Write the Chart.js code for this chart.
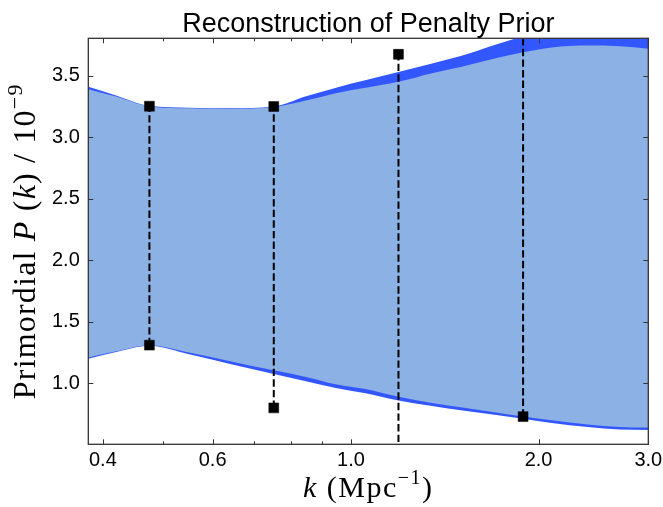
<!DOCTYPE html>
<html>
<head>
<meta charset="utf-8">
<script src="https://cdn.jsdelivr.net/npm/chart.js@4/dist/chart.umd.min.js"></script>
<style>
  html, body { margin: 0; padding: 0; background: #ffffff; }
  #wrap { width: 663px; height: 507px; position: relative; }
</style>
</head>
<body>
<div id="wrap"><canvas id="c" width="663" height="507"></canvas></div>
<script>
// ---- data ----
const titleText = 'Reconstruction of Penalty Prior';
const kGrid      = [0.379, 0.42, 0.475, 0.55, 0.64, 0.752, 0.85, 0.95, 1.05, 1.192, 1.35, 1.5, 1.7, 1.889, 2.1, 2.4, 2.7, 3.0];
const lightUpper = [3.39, 3.33, 3.25, 3.235, 3.23, 3.245, 3.30, 3.36, 3.40, 3.45, 3.52, 3.57, 3.64, 3.69, 3.73, 3.745, 3.74, 3.72];
const lightLower = [1.21, 1.26, 1.31, 1.25, 1.18, 1.105, 1.05, 0.99, 0.955, 0.89, 0.84, 0.805, 0.765, 0.73, 0.70, 0.665, 0.645, 0.64];
const darkUpper  = [3.41, 3.34, 3.255, 3.24, 3.235, 3.25, 3.335, 3.405, 3.46, 3.53, 3.60, 3.66, 3.75, 3.82, 3.87, 3.90, 3.91, 3.90];
const darkLower  = [1.20, 1.255, 1.305, 1.236, 1.157, 1.075, 1.015, 0.96, 0.92, 0.86, 0.815, 0.78, 0.745, 0.712, 0.678, 0.645, 0.624, 0.62];
const sampleK    = [0.475, 0.752, 1.192, 1.889];
const sampleHigh = [3.252, 3.25, 3.674, 4.05];
const sampleLow  = [1.31, 0.80, 0.35, 0.729];
const xTicks      = [0.4, 0.6, 1.0, 2.0, 3.0];
const xMinorTicks = [0.5, 0.7, 0.8, 0.9];
const yTicks      = [1.0, 1.5, 2.0, 2.5, 3.0, 3.5];

const LIGHT = '#8cb1e4';
const DARK  = '#3357ff';

const toPts = (xs, ys) => xs.map((x, i) => ({ x: x, y: ys[i] }));
const markerPts = sampleK.flatMap((k, i) => [{ x: k, y: sampleHigh[i] }, { x: k, y: sampleLow[i] }]);
const dashPts = sampleK.flatMap((k, i) => [{ x: k, y: sampleLow[i] }, { x: k, y: sampleHigh[i] }, { x: k, y: null }]);

function drawMixed(ctx, segs, x, y, spacing) {
  if ('letterSpacing' in ctx) ctx.letterSpacing = spacing + 'px';
  let total = 0;
  segs.forEach(s => { ctx.font = s.font; s.w = ctx.measureText(s.t).width; total += s.w; });
  let cx = x - total / 2;
  ctx.textAlign = 'left';
  ctx.textBaseline = 'alphabetic';
  segs.forEach(s => { ctx.font = s.font; ctx.fillText(s.t, cx, y + (s.dy || 0)); cx += s.w; });
  if ('letterSpacing' in ctx) ctx.letterSpacing = '0px';
}

function fonts(F) {
  const serif = '"Liberation Serif", "Times New Roman", serif';
  return {
    rom: F + 'px ' + serif,
    ita: 'italic ' + F + 'px ' + serif,
    sup: Math.round(F * 0.68) + 'px ' + serif,
    up: -F * 0.42
  };
}

const decor = {
  id: 'decor',
  afterDraw(chart) {
    const ctx = chart.ctx;
    const a = chart.chartArea;
    const xs = chart.scales.x, ys = chart.scales.y;
    ctx.save();
    // frame
    ctx.strokeStyle = '#333333';
    ctx.lineWidth = 1.3;
    ctx.strokeRect(a.left, a.top, a.right - a.left, a.bottom - a.top);
    // inward ticks
    ctx.lineWidth = 1;
    ctx.beginPath();
    const tickX = (v, len) => {
      const p = Math.round(xs.getPixelForValue(v)) + 0.5;
      ctx.moveTo(p, a.bottom); ctx.lineTo(p, a.bottom - len);
      ctx.moveTo(p, a.top); ctx.lineTo(p, a.top + len);
    };
    const tickY = (v, len) => {
      const p = Math.round(ys.getPixelForValue(v)) + 0.5;
      ctx.moveTo(a.left, p); ctx.lineTo(a.left + len, p);
      ctx.moveTo(a.right, p); ctx.lineTo(a.right - len, p);
    };
    xTicks.forEach(v => tickX(v, 5));
    xMinorTicks.forEach(v => tickX(v, 3));
    yTicks.forEach(v => tickY(v, 5));
    ctx.stroke();

    ctx.fillStyle = '#000000';
    // title
    ctx.font = '27px "Liberation Sans", Arial, sans-serif';
    ctx.textAlign = 'center';
    ctx.textBaseline = 'alphabetic';
    ctx.fillText(titleText, (a.left + a.right) / 2, 31.5);

    // x axis title
    const fx = fonts(30);
    drawMixed(ctx, [
      { t: 'k', font: fx.ita },
      { t: ' (Mpc', font: fx.rom },
      { t: '\u22121', font: fx.sup, dy: fx.up },
      { t: ')', font: fx.rom }
    ], (a.left + a.right) / 2, 497, 1.5);
    // y axis title
    const fy = fonts(32);
    ctx.save();
    ctx.translate(35, (a.top + a.bottom) / 2);
    ctx.rotate(-Math.PI / 2);
    drawMixed(ctx, [
      { t: 'Primordial ', font: fy.rom },
      { t: 'P', font: fy.ita },
      { t: ' (', font: fy.rom },
      { t: 'k', font: fy.ita },
      { t: ') / 10', font: fy.rom },
      { t: '\u22129', font: fy.sup, dy: fy.up }
    ], 0, 0, 1.2);
    ctx.restore();
    ctx.restore();
  }
};

new Chart(document.getElementById('c'), {
  type: 'line',
  data: {
    datasets: [
      { // 0 markers
        data: markerPts, showLine: false, pointStyle: 'rect', pointRadius: 7,
        pointBackgroundColor: '#000', pointBorderColor: '#000', pointBorderWidth: 0.5, clip: 0
      },
      { // 1 dashed connectors
        data: dashPts, borderColor: '#000', borderWidth: 2, borderDash: [7.4, 3.2],
        pointRadius: 0, spanGaps: false, fill: false, clip: 0
      },
      { // 2 light upper
        data: toPts(kGrid, lightUpper), borderWidth: 0, borderColor: LIGHT, pointRadius: 0,
        backgroundColor: LIGHT, fill: '+1', cubicInterpolationMode: 'monotone', clip: 0
      },
      { // 3 light lower
        data: toPts(kGrid, lightLower), borderWidth: 0, borderColor: LIGHT, pointRadius: 0,
        fill: false, cubicInterpolationMode: 'monotone', clip: 0
      },
      { // 4 dark upper
        data: toPts(kGrid, darkUpper), borderWidth: 0, borderColor: DARK, pointRadius: 0,
        backgroundColor: DARK, fill: '+1', cubicInterpolationMode: 'monotone', clip: 0
      },
      { // 5 dark lower
        data: toPts(kGrid, darkLower), borderWidth: 0, borderColor: DARK, pointRadius: 0,
        fill: false, cubicInterpolationMode: 'monotone', clip: 0
      }
    ]
  },
  options: {
    responsive: false,
    animation: false,
    events: [],
    layout: { padding: { left: 0, right: 14.7, top: 38.3, bottom: 0 } },
    plugins: { legend: { display: false }, tooltip: { enabled: false }, title: { display: false } },
    scales: {
      x: {
        type: 'logarithmic', min: 0.379, max: 3.0,
        grid: { display: false, drawTicks: false }, border: { display: false },
        afterBuildTicks: s => { s.ticks = xTicks.map(v => ({ value: v })); },
        afterFit: s => { s.height = 62.7; s.paddingLeft = 0; s.paddingRight = 0; },
        ticks: {
          autoSkip: false, maxRotation: 0, padding: 4, color: '#000',
          font: { family: '"Liberation Sans", Arial, sans-serif', size: 20 },
          callback: v => Number(v).toFixed(1)
        }
      },
      y: {
        type: 'linear', min: 0.504, max: 3.804,
        grid: { display: false, drawTicks: false }, border: { display: false },
        afterBuildTicks: s => { s.ticks = yTicks.map(v => ({ value: v })); },
        afterFit: s => { s.width = 88.3; s.paddingTop = 0; s.paddingBottom = 0; },
        ticks: {
          padding: 8.5, color: '#000',
          font: { family: '"Liberation Sans", Arial, sans-serif', size: 20 },
          callback: v => Number(v).toFixed(1)
        }
      }
    }
  },
  plugins: [decor]
});
</script>
</body>
</html>
